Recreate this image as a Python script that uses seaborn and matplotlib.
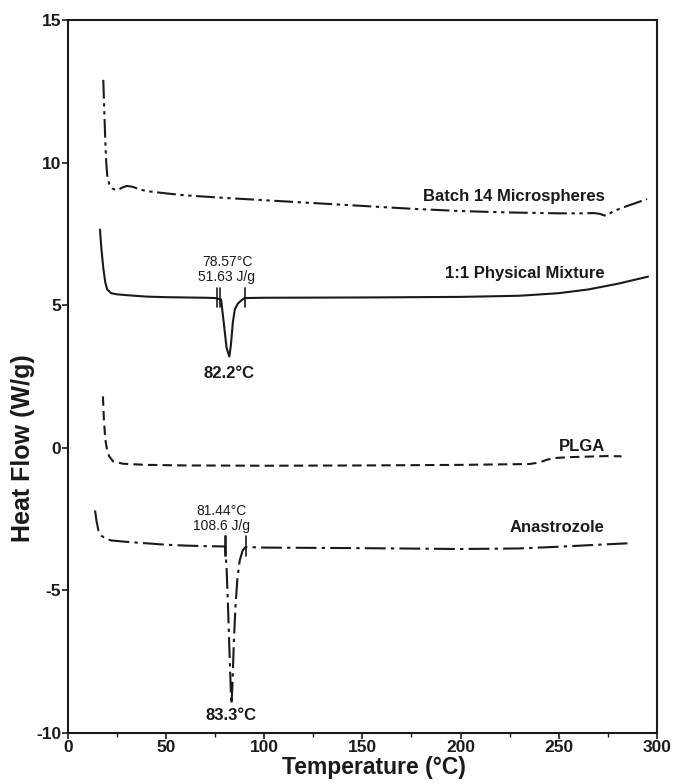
import matplotlib
matplotlib.use("Agg")
import matplotlib.pyplot as plt
from matplotlib.ticker import MultipleLocator
import seaborn as sns

# DSC thermograms: temperature (°C) and heat flow (W/g), read point by point
batch_T = [18.0, 18.5, 19.0, 19.5, 20.0, 21.0, 22.5, 24.0, 25.5, 27.5, 30.0, 33.0,
           36.0, 40.0, 50.0, 60.0, 80.0, 100.0, 125.0, 150.0, 175.0, 200.0, 225.0,
           250.0, 262.0, 268.0, 271.0, 274.0, 278.0, 285.0, 295.0]
batch_HF = [12.9, 11.8, 10.8, 10.0, 9.55, 9.25, 9.1, 9.05, 9.04, 9.12, 9.18, 9.15,
            9.07, 9.0, 8.92, 8.85, 8.76, 8.68, 8.58, 8.48, 8.38, 8.3, 8.25,
            8.22, 8.22, 8.23, 8.2, 8.13, 8.3, 8.48, 8.72]

mix_T = [16.3, 17.0, 18.0, 19.0, 20.0, 22.0, 25.0, 30.0, 40.0, 50.0, 60.0, 70.0,
         75.0, 78.0, 79.5, 80.8, 82.2, 83.0, 84.0, 85.0, 86.5, 88.0, 90.0, 100.0,
         150.0, 200.0, 230.0, 250.0, 265.0, 280.0, 295.5]
mix_HF = [7.65, 7.0, 6.3, 5.8, 5.55, 5.42, 5.38, 5.35, 5.3, 5.28, 5.27, 5.26,
          5.25, 5.2, 4.3, 3.5, 3.2, 3.6, 4.4, 4.85, 5.05, 5.15, 5.25, 5.26,
          5.27, 5.29, 5.33, 5.42, 5.55, 5.75, 6.0]

plga_T = [17.8, 18.3, 19.0, 20.0, 21.0, 23.0, 28.0, 40.0, 60.0, 100.0, 150.0,
          200.0, 235.0, 240.0, 244.0, 248.0, 255.0, 265.0, 275.0, 282.0]
plga_HF = [1.8, 1.0, 0.3, -0.1, -0.3, -0.48, -0.56, -0.6, -0.62, -0.63, -0.62,
           -0.6, -0.57, -0.52, -0.42, -0.36, -0.33, -0.31, -0.29, -0.3]

ana_T = [13.8, 14.5, 15.5, 17.0, 19.0, 22.0, 30.0, 40.0, 50.0, 60.0, 70.0, 80.0,
         80.8, 81.5, 82.3, 83.0, 83.3, 83.8, 84.5, 85.3, 86.3, 87.5, 89.0, 90.5,
         100.0, 150.0, 200.0, 230.0, 250.0, 270.0, 285.0]
ana_HF = [-2.2, -2.55, -2.9, -3.08, -3.18, -3.25, -3.3, -3.35, -3.4, -3.43, -3.45, -3.46,
          -4.2, -5.5, -7.2, -8.6, -9.0, -8.3, -6.8, -5.6, -4.6, -3.95, -3.6, -3.48,
          -3.5, -3.52, -3.55, -3.53, -3.47, -3.4, -3.35]

# integration limits of the melting endotherms
mix_limits = [76.0, 77.4, 90.0]
ana_limits = [79.8, 80.6, 90.5]

series_names = ["Batch 14 Microspheres", "1:1 Physical Mixture", "PLGA", "Anastrozole"]
label_y = [8.8, 6.1, 0.05, -2.78]

mix_onset, mix_enthalpy, mix_peak = 78.57, 51.63, 82.2
ana_onset, ana_enthalpy, ana_peak = 81.44, 108.6, 83.3

sns.set_theme(style="ticks")
plt.rcParams["font.family"] = ["Liberation Sans", "DejaVu Sans"]
plt.rcParams["axes.unicode_minus"] = False

fig = plt.figure(figsize=(6.73, 7.83), dpi=100)
ax = fig.add_axes([0.101, 0.0639, 0.875, 0.9106])

ink = "#1a1a1a"
styles = [(0, (9, 2.2, 1.6, 2.2, 1.6, 2.2)), "-", (0, (4.5, 2.5)), (0, (10, 2.5, 1.6, 2.5))]
curves = [(batch_T, batch_HF), (mix_T, mix_HF), (plga_T, plga_HF), (ana_T, ana_HF)]
for (t, hf), ls in zip(curves, styles):
    sns.lineplot(x=t, y=hf, ax=ax, color=ink, linewidth=1.5, linestyle=ls,
                 sort=False, estimator=None)

# integration limit markers
for xl in mix_limits:
    ax.plot([xl, xl], [4.95, 5.6], color=ink, lw=1.2)
for xl in ana_limits:
    ax.plot([xl, xl], [-3.1, -3.8], color=ink, lw=1.2)

# curve labels
for name, yv in zip(series_names, label_y):
    ax.text(273.5, yv, name, ha="right", va="center", fontsize=12, fontweight="bold",
            color=ink)

# thermal event annotations
ax.text(81.0, 6.5, f"{mix_onset:.2f}°C", ha="center", va="center", fontsize=10, color=ink)
ax.text(81.0, 5.98, f"{mix_enthalpy:.2f} J/g", ha="center", va="center", fontsize=10,
        color=ink)
ax.text(mix_peak, 2.62, f"{mix_peak:.1f}°C", ha="center", va="center", fontsize=12,
        fontweight="bold", color=ink)
ax.text(78.0, -2.2, f"{ana_onset:.2f}°C", ha="center", va="center", fontsize=10, color=ink)
ax.text(78.0, -2.76, f"{ana_enthalpy:.1f} J/g", ha="center", va="center", fontsize=10,
        color=ink)
ax.text(ana_peak, -9.38, f"{ana_peak:.1f}°C", ha="center", va="center", fontsize=12,
        fontweight="bold", color=ink)

ax.set_xlim(0, 300)
ax.set_ylim(-10, 15)
ax.xaxis.set_major_locator(MultipleLocator(50))
ax.xaxis.set_minor_locator(MultipleLocator(25))
ax.yaxis.set_major_locator(MultipleLocator(5))
ax.tick_params(axis="both", which="major", direction="out", length=4, width=1.2,
               colors=ink, labelsize=12.5, pad=1.0)
ax.tick_params(axis="x", which="minor", direction="out", length=3, width=1.0, colors=ink)
for lab in ax.get_xticklabels() + ax.get_yticklabels():
    lab.set_fontweight("bold")

for side in ["left", "right", "top", "bottom"]:
    ax.spines[side].set_visible(True)
    ax.spines[side].set_color(ink)
    ax.spines[side].set_linewidth(1.5)

ax.set_xlabel("Temperature (°C)", fontsize=16.5, fontweight="bold", color=ink)
ax.set_ylabel("Heat Flow (W/g)", fontsize=18, fontweight="bold", color=ink)
ax.xaxis.set_label_coords(0.52, -0.0325)
ax.yaxis.set_label_coords(-0.056, 0.40)

fig.savefig("out.png", dpi=100, facecolor="white")
